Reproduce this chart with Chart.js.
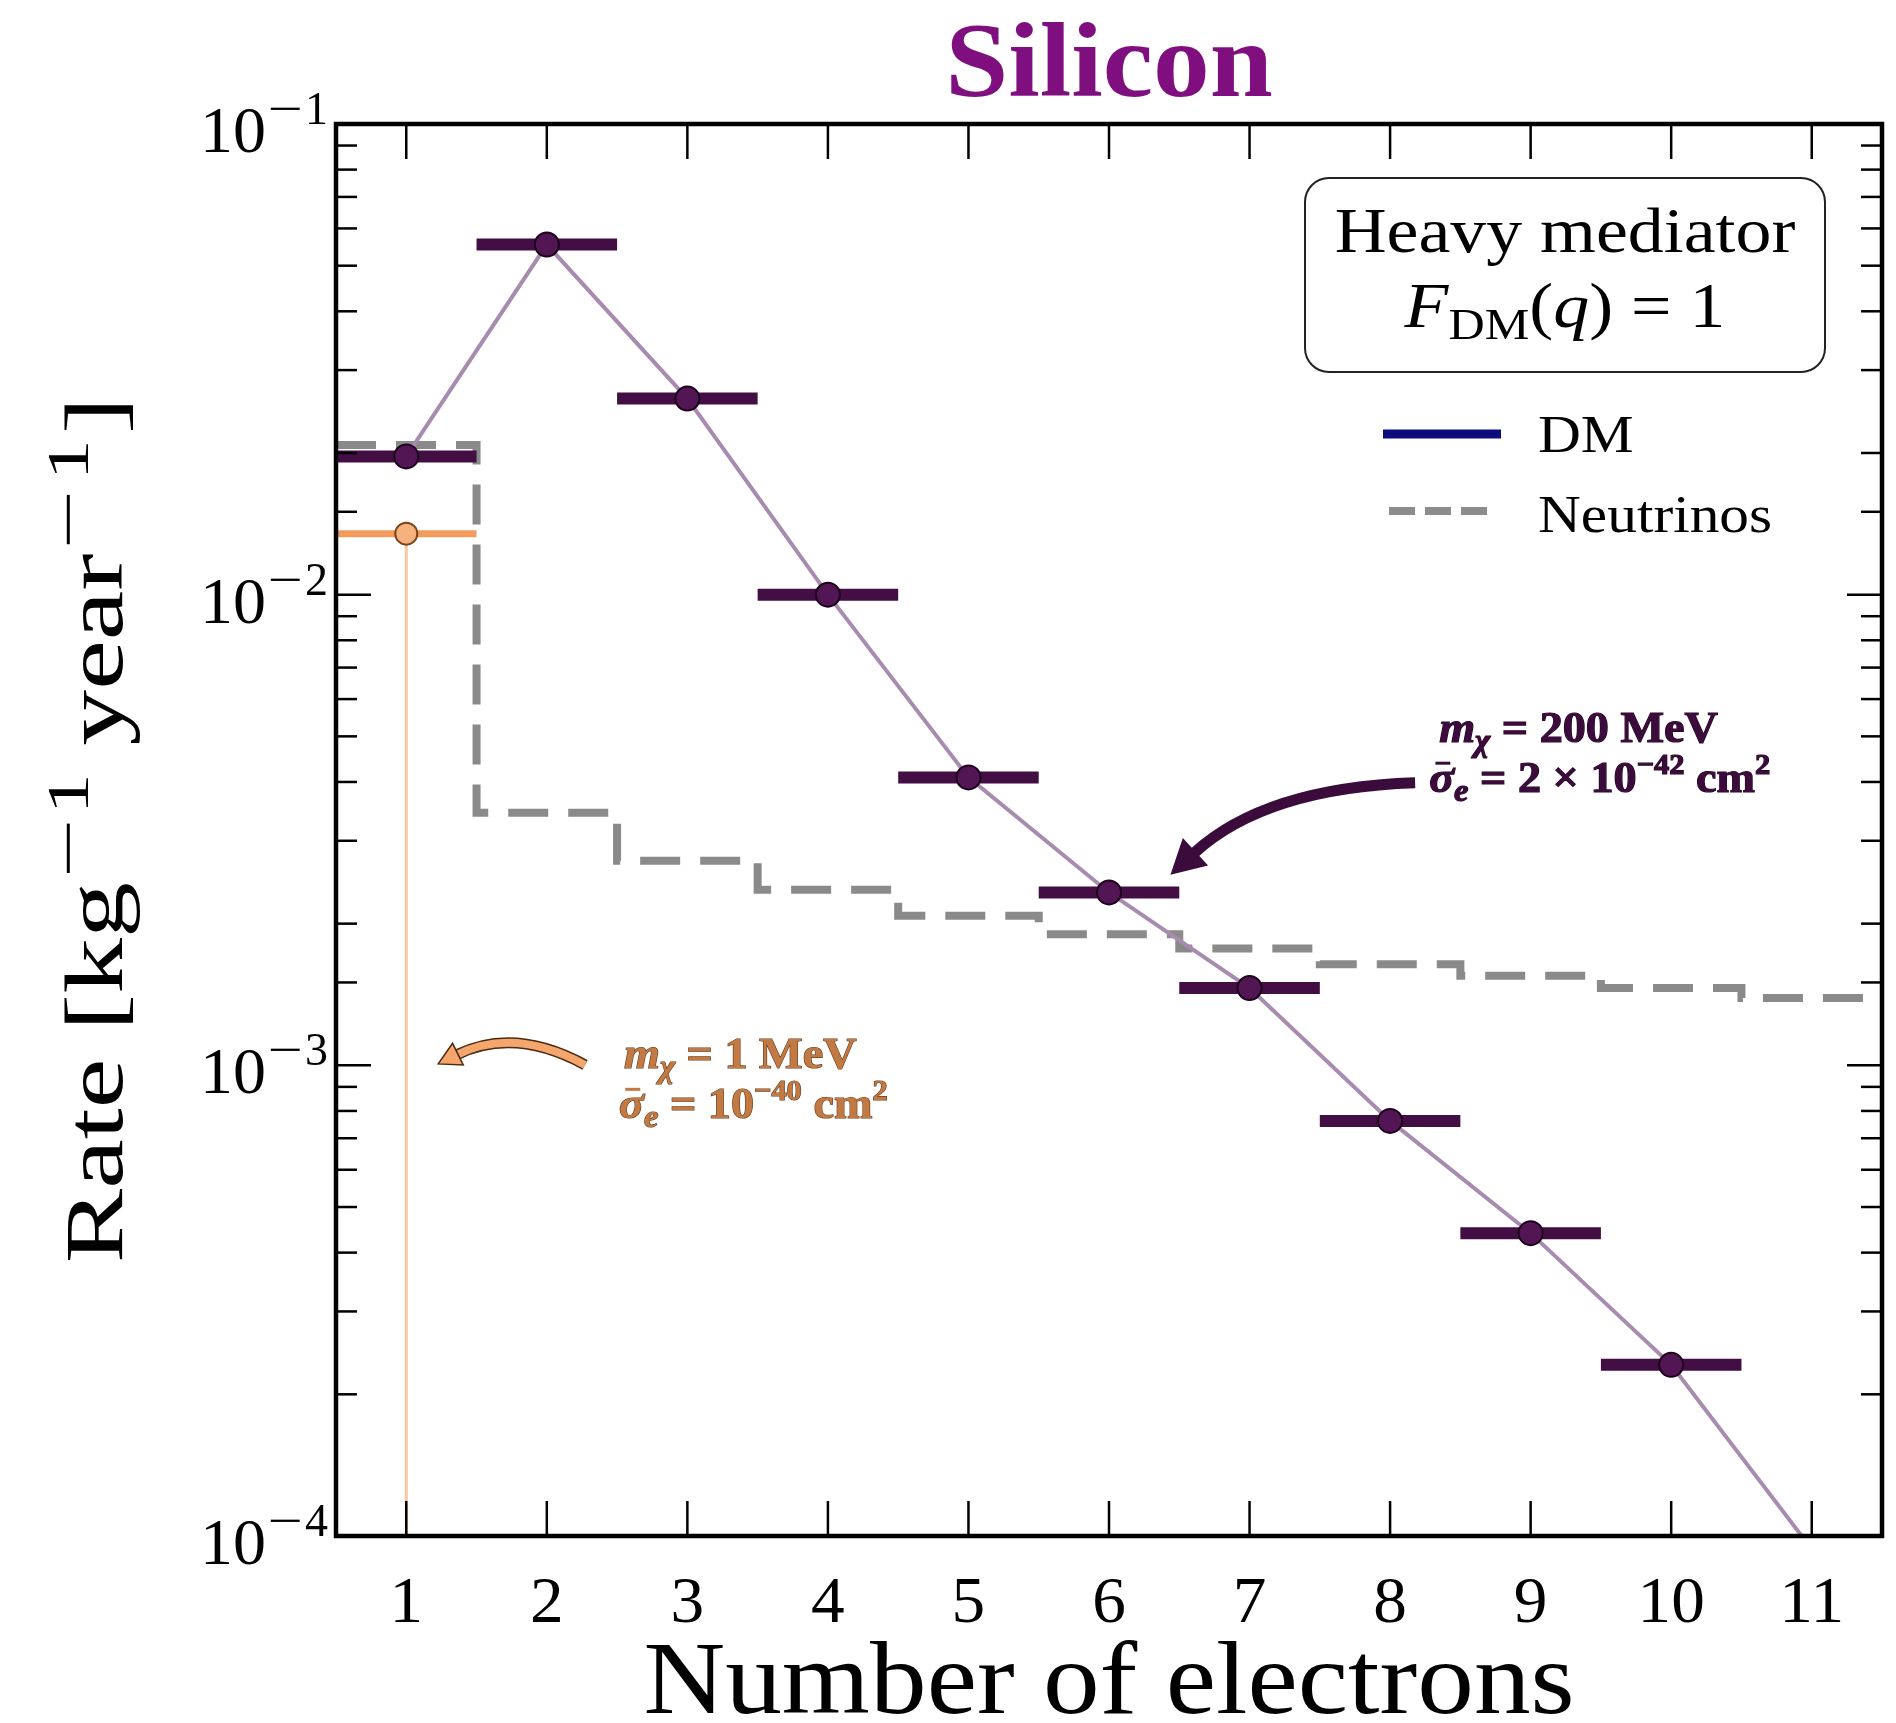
<!DOCTYPE html>
<html>
<head>
<meta charset="utf-8">
<script src="https://cdn.jsdelivr.net/npm/chart.js@4.4.1/dist/chart.umd.min.js"></script>
<style>
  html, body { margin: 0; padding: 0; background: #fff; }
</style>
</head>
<body>
<canvas id="rateChart" width="1896" height="1723"></canvas>
<script>
// silicon rate vs number of electrons
const electrons = [1, 2, 3, 4, 5, 6, 7, 8, 9, 10, 11];
const dmRate = [0.01967, 0.05545, 0.0261, 0.0100, 0.00409, 0.00233, 0.00146, 0.000762, 0.000440, 0.000231, 0.0000938];
const lightRate = [0.01348];
const nuRate = [0.02080, 0.003441, 0.002720, 0.002360, 0.00208, 0.00190, 0.00177, 0.00164, 0.00155, 0.00146, 0.00139];
const binHalfWidth = 0.5;
const xMin = 0.5, xMax = 11.5;
const yMin = 1e-4, yMax = 1e-1;

const SERIF = '"Liberation Serif", "DejaVu Serif", serif';
const font = (size, style) => `${style || ''} ${size}px ${SERIF}`;

const PURPLE_TEXT = '#3b0c3b';
const ORANGE_TEXT = '#c27a45';

function binSegments(values) {
    const pts = [];
    values.forEach((v, i) => {
        const n = electrons[i];
        pts.push({ x: n - binHalfWidth, y: v }, { x: n + binHalfWidth, y: v }, { x: n, y: null });
    });
    return pts;
}

const nuSteps = nuRate.map((v, i) => ({ x: electrons[i] - binHalfWidth, y: v }));
nuSteps.push({ x: electrons[electrons.length - 1] + binHalfWidth, y: nuRate[nuRate.length - 1] });

const dmPoints = dmRate.map((v, i) => ({ x: electrons[i], y: v }));
const lightPoints = lightRate.map((v, i) => ({ x: electrons[i], y: v }));

// draws a run of text pieces (sub/superscripts) on one baseline
function drawRich(ctx, parts, x, y, opts) {
    const o = Object.assign({ align: 'left', sx: 1, rot: 0, color: '#000', outline: null }, opts);
    let w = 0;
    parts.forEach(p => {
        ctx.font = p.f;
        p.w = ctx.measureText(p.t).width * (p.s || 1) + (p.gap || 0);
        w += p.w;
    });
    ctx.save();
    ctx.translate(x, y);
    if (o.rot) ctx.rotate(o.rot);
    ctx.scale(o.sx, 1);
    let cx = o.align === 'center' ? -w / 2 : o.align === 'right' ? -w : 0;
    ctx.textAlign = 'left';
    ctx.textBaseline = 'alphabetic';
    ctx.fillStyle = o.color;
    parts.forEach(p => {
        ctx.font = p.f;
        ctx.save();
        ctx.translate(cx + (p.gap || 0) / 2, p.dy || 0);
        ctx.scale(p.s || 1, 1);
        if (o.outline) {
            ctx.strokeStyle = o.outline;
            ctx.lineWidth = 1.2;
            ctx.strokeText(p.t, 0, 0);
        }
        ctx.fillText(p.t, 0, 0);
        if (p.bar) {
            // macron over the glyph
            const gw = ctx.measureText(p.t).width;
            ctx.fillRect(gw * 0.25, -p.bar, gw * 0.6, 3);
        }
        ctx.restore();
        cx += p.w;
    });
    ctx.restore();
}

// annotation anchors, in data units
const heavyArrow = { tail: [8.178, 0.003985], ctrl: [7.112, 0.003889], tip: [6.437, 0.002541] };
const lightArrow = { tail: [2.272, 0.001002], ctrl: [1.768, 0.001210], tip: [1.227, 0.001007] };
const heavyLabel = [[8.349, 0.004871], [8.278, 0.003814]];
const lightLabel = [[2.549, 0.0009878], [2.514, 0.0007735]];

function drawArrow(ctx, x, y, arrow, body, color, outline, head) {
    const P0 = [x.getPixelForValue(arrow.tail[0]), y.getPixelForValue(arrow.tail[1])];
    const C = [x.getPixelForValue(arrow.ctrl[0]), y.getPixelForValue(arrow.ctrl[1])];
    const T = [x.getPixelForValue(arrow.tip[0]), y.getPixelForValue(arrow.tip[1])];
    let dx = T[0] - C[0], dy = T[1] - C[1];
    const len = Math.hypot(dx, dy);
    dx /= len; dy /= len;
    const E = [T[0] - dx * head, T[1] - dy * head];
    ctx.save();
    ctx.lineCap = 'butt';
    const curve = () => {
        ctx.beginPath();
        ctx.moveTo(P0[0], P0[1]);
        ctx.quadraticCurveTo(C[0], C[1], E[0] + dx * 2, E[1] + dy * 2);
    };
    if (outline) {
        curve(); ctx.strokeStyle = outline; ctx.lineWidth = body + 3; ctx.stroke();
    }
    curve(); ctx.strokeStyle = color; ctx.lineWidth = body; ctx.stroke();
    const hw = head * 0.55;
    ctx.beginPath();
    ctx.moveTo(T[0], T[1]);
    ctx.lineTo(E[0] - dy * hw, E[1] + dx * hw);
    ctx.lineTo(E[0] + dy * hw, E[1] - dx * hw);
    ctx.closePath();
    ctx.fillStyle = color;
    ctx.fill();
    if (outline) { ctx.strokeStyle = outline; ctx.lineWidth = 1.5; ctx.stroke(); }
    ctx.restore();
}

function massLines(mass, cross, sup) {
    const line1 = [
        { t: 'm', f: font(44, 'italic bold') },
        { t: 'χ', f: font(31, 'italic bold'), dy: 9 },
        { t: ' = ' + mass + ' MeV', f: font(44, 'bold') }
    ];
    const line2 = [
        { t: 'σ', f: font(44, 'italic bold'), bar: 30 },
        { t: 'e', f: font(31, 'italic bold'), dy: 9 },
        { t: ' = ' + cross, f: font(44, 'bold') },
        { t: sup, f: font(29, 'bold'), dy: -18 },
        { t: ' cm', f: font(44, 'bold') },
        { t: '2', f: font(29, 'bold'), dy: -18 }
    ];
    return [line1, line2];
}

const decorations = {
    id: 'decorations',
    afterDraw(chart) {
        const { ctx, chartArea: a, scales: { x, y } } = chart;
        ctx.save();

        // tick marks, pointing inward, on all four sides
        ctx.strokeStyle = '#000';
        ctx.lineWidth = 2.5;
        const seg = (x1, y1, x2, y2) => { ctx.beginPath(); ctx.moveTo(x1, y1); ctx.lineTo(x2, y2); ctx.stroke(); };
        x.ticks.forEach(t => {
            const px = x.getPixelForValue(t.value);
            seg(px, a.bottom, px, a.bottom - 35);
            seg(px, a.top, px, a.top + 35);
            drawRich(ctx, [{ t: String(t.value), f: font(66) }], px, a.bottom + 86, { align: 'center', sx: 1.02 });
        });
        y.ticks.forEach(t => {
            const py = y.getPixelForValue(t.value);
            const e = Math.log10(t.value);
            const major = Math.abs(e - Math.round(e)) < 1e-6;
            const len = major ? 35 : 21;
            seg(a.left, py, a.left + len, py);
            seg(a.right, py, a.right - len, py);
            if (major) {
                drawRich(ctx, [
                    { t: '10', f: font(66), dy: 28 },
                    { t: '−', f: font(46), s: 1.35, gap: 4 },
                    { t: String(-Math.round(e)), f: font(46) }
                ], a.left - 8, py, { align: 'right' });
            }
        });

        // frame
        ctx.lineWidth = 4.5;
        ctx.strokeRect(a.left, a.top, a.right - a.left, a.bottom - a.top);

        const cx = (a.left + a.right) / 2;
        // title
        drawRich(ctx, [{ t: 'Silicon', f: font(106, 'bold') }], cx, a.top - 28, { align: 'center', sx: 1.07, color: '#7f0f7f' });
        // axis titles
        drawRich(ctx, [{ t: 'Number of electrons', f: font(103) }], cx, chart.height - 10, { align: 'center', sx: 1.1 });
        drawRich(ctx, [
            { t: 'Rate [kg', f: font(82) },
            { t: '−', f: font(60), dy: -34, s: 1.3, gap: 6 },
            { t: '1', f: font(60), dy: -34 },
            { t: ' year', f: font(82) },
            { t: '−', f: font(60), dy: -34, s: 1.3, gap: 6 },
            { t: '1', f: font(60), dy: -34, gap: 8 },
            { t: ']', f: font(82) }
        ], 122, (a.top + a.bottom) / 2, { align: 'center', sx: 1.36, rot: -Math.PI / 2 });

        // text box
        const bx = a.right - 577, by = a.top + 54, bw = 520, bh = 194;
        ctx.beginPath();
        ctx.roundRect(bx, by, bw, bh, 24);
        ctx.fillStyle = '#fff';
        ctx.fill();
        ctx.strokeStyle = '#222';
        ctx.lineWidth = 2;
        ctx.stroke();
        const bcx = bx + bw / 2;
        drawRich(ctx, [{ t: 'Heavy mediator', f: font(63) }], bcx, by + 74, { align: 'center', sx: 1.14 });
        drawRich(ctx, [
            { t: 'F', f: font(63, 'italic') },
            { t: 'DM', f: font(44), dy: 12 },
            { t: '(', f: font(63) },
            { t: 'q', f: font(63, 'italic') },
            { t: ')', f: font(63) },
            { t: ' = 1', f: font(63) }
        ], bcx, by + 149, { align: 'center', sx: 1.14 });

        // legend entries
        ctx.lineCap = 'butt';
        ctx.strokeStyle = '#0c0c7c';
        ctx.lineWidth = 9;
        seg(bx + 78, by + 256, bx + 196, by + 256);
        drawRich(ctx, [{ t: 'DM', f: font(53) }], bx + 233, by + 274, { sx: 1.12 });
        ctx.strokeStyle = '#8c8c8c';
        ctx.lineWidth = 8;
        ctx.setLineDash([26, 10]);
        seg(bx + 84, by + 333, bx + 182, by + 333);
        ctx.setLineDash([]);
        drawRich(ctx, [{ t: 'Neutrinos', f: font(53) }], bx + 233, by + 354, { sx: 1.12 });

        // annotations
        drawArrow(ctx, x, y, heavyArrow, 11, '#3b0c3b', null, 34);
        drawArrow(ctx, x, y, lightArrow, 8, '#f4a66c', '#4a2a10', 22);
        const hl = massLines('200', '2 × 10', '−42');
        hl.forEach((ln, i) => drawRich(ctx, ln, x.getPixelForValue(heavyLabel[i][0]), y.getPixelForValue(heavyLabel[i][1]), { sx: 1.05, color: PURPLE_TEXT, outline: '#220022' }));
        const ll = massLines('1', '10', '−40');
        ll.forEach((ln, i) => drawRich(ctx, ln, x.getPixelForValue(lightLabel[i][0]), y.getPixelForValue(lightLabel[i][1]), { sx: 1.05, color: ORANGE_TEXT, outline: '#6a3a18' }));

        ctx.restore();
    }
};

new Chart(document.getElementById('rateChart'), {
    type: 'scatter',
    data: {
        datasets: [
            {
                label: 'DM markers',
                data: dmPoints.slice(0, 10),
                showLine: false,
                pointRadius: 12,
                pointBackgroundColor: '#521654',
                pointBorderColor: '#1c001c',
                pointBorderWidth: 2,
                clip: 0
            },
            {
                label: 'Light DM marker',
                data: lightPoints,
                showLine: false,
                pointRadius: 11,
                pointBackgroundColor: '#f6b27e',
                pointBorderColor: '#7a4418',
                pointBorderWidth: 2,
                clip: 0
            },
            {
                type: 'line',
                label: 'DM bins',
                data: binSegments(dmRate),
                borderColor: '#430e44',
                borderWidth: 12,
                borderCapStyle: 'butt',
                pointRadius: 0,
                spanGaps: false,
                clip: 0
            },
            {
                type: 'line',
                label: 'Light DM bins',
                data: binSegments(lightRate),
                borderColor: '#f19c5c',
                borderWidth: 7,
                borderCapStyle: 'butt',
                pointRadius: 0,
                spanGaps: false,
                clip: 0
            },
            {
                type: 'line',
                label: 'DM',
                data: dmPoints,
                borderColor: '#a88cb0',
                borderWidth: 4,
                pointRadius: 0,
                clip: 0
            },
            {
                type: 'line',
                label: 'Light DM',
                data: [lightPoints[0], { x: electrons[0], y: yMin }],
                borderColor: '#f8c7a4',
                borderWidth: 3,
                pointRadius: 0,
                clip: 0
            },
            {
                type: 'line',
                label: 'Neutrinos',
                data: nuSteps,
                stepped: true,
                borderColor: '#8a8a8a',
                borderWidth: 8,
                borderDash: [40, 20],
                pointRadius: 0,
                clip: 0
            }
        ]
    },
    options: {
        responsive: false,
        animation: false,
        devicePixelRatio: 1,
        layout: { padding: { left: 336, right: 13, top: 124, bottom: 187 } },
        plugins: {
            legend: { display: false },
            tooltip: { enabled: false }
        },
        scales: {
            x: {
                type: 'linear',
                min: xMin,
                max: xMax,
                ticks: { display: false },
                grid: { display: false },
                border: { display: false },
                afterBuildTicks: s => { s.ticks = electrons.map(v => ({ value: v })); },
                afterFit: s => { s.height = 0; }
            },
            y: {
                type: 'logarithmic',
                min: yMin,
                max: yMax,
                ticks: { display: false },
                grid: { display: false },
                border: { display: false },
                afterFit: s => { s.width = 0; }
            }
        }
    },
    plugins: [decorations]
});
</script>
</body>
</html>
